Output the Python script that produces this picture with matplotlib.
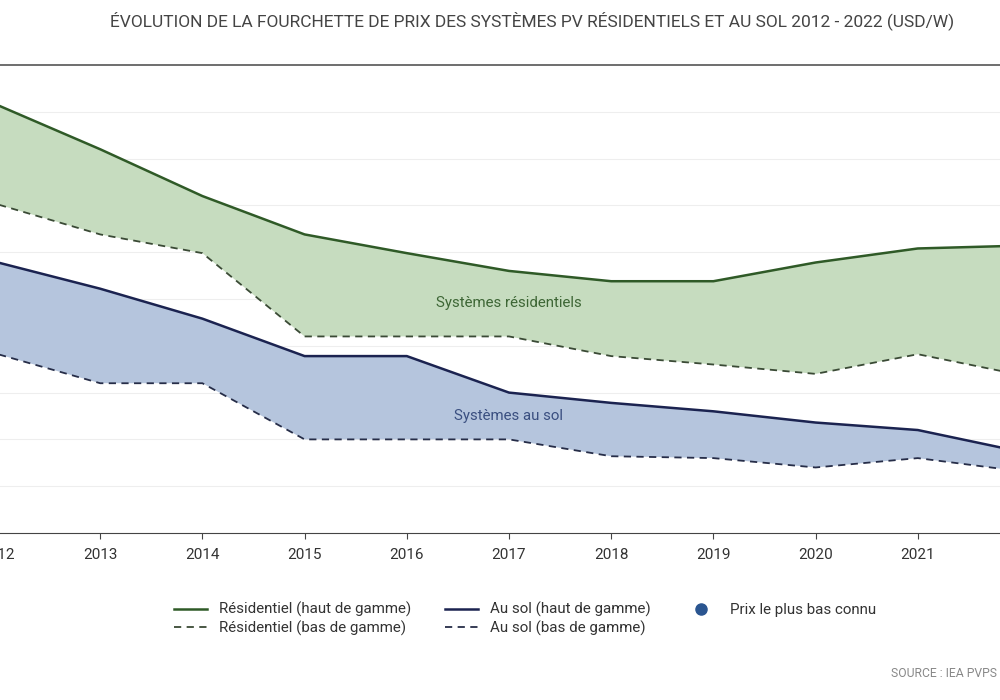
import matplotlib.pyplot as plt
from matplotlib.lines import Line2D

plt.rcParams['font.family'] = ['Roboto', 'DejaVu Sans']

# Price range of PV systems, USD/W
years = [2012, 2013, 2014, 2015, 2016, 2017, 2018, 2019, 2020, 2021, 2022]
res_high = [4.57, 4.10, 3.60, 3.19, 2.99, 2.80, 2.69, 2.69, 2.89, 3.04, 3.07]
res_low = [3.51, 3.19, 2.99, 2.10, 2.10, 2.10, 1.89, 1.80, 1.70, 1.91, 1.69]
sol_high = [2.89, 2.61, 2.29, 1.89, 1.89, 1.50, 1.39, 1.30, 1.18, 1.10, 0.87]
sol_low = [1.91, 1.60, 1.60, 1.00, 1.00, 1.00, 0.82, 0.80, 0.70, 0.80, 0.66]

green_line = '#2f5a27'
green_fill = '#c6dcbf'
navy_line = '#1b2350'
blue_fill = '#b5c5dd'

fig = plt.figure(figsize=(10, 7), dpi=100)
# the chart is cropped: axes run a little past both figure edges
ax = fig.add_axes([-0.002, 0.2386, 1.022, 0.6685])

ax.fill_between(years, res_low, res_high, color=green_fill, lw=0)
ax.fill_between(years, sol_low, sol_high, color=blue_fill, lw=0)
ax.plot(years, res_high, color=green_line, lw=1.8)
ax.plot(years, res_low, color='#3a4a35', lw=1.3, ls=(0, (4, 3)))
ax.plot(years, sol_high, color=navy_line, lw=1.8)
ax.plot(years, sol_low, color='#262d48', lw=1.3, ls=(0, (4, 3)))

ax.text(2017.0, 2.46, 'Systèmes résidentiels', color='#3d6635', fontsize=10.8,
        ha='center', va='center')
ax.text(2017.0, 1.25, 'Systèmes au sol', color='#3a4f80', fontsize=10.8,
        ha='center', va='center')

ax.set_xticks(years)
ax.set_xticklabels([str(y) for y in years], fontsize=11, color='#333333')
ax.set_yticks([i * 0.5 for i in range(1, 10)])
ax.set_xlim(2012, 2022)
ax.set_ylim(0, 5)
ax.tick_params(axis='y', left=False, labelleft=False)
ax.tick_params(axis='x', length=4, color='#444444', pad=7)
ax.grid(axis='y', color='#eeeeee', lw=0.8)
ax.set_axisbelow(True)
for s in ['left', 'right']:
    ax.spines[s].set_visible(False)
ax.spines['bottom'].set_color('#444444')
ax.spines['top'].set_color('#555555')
ax.spines['top'].set_linewidth(1.2)

fig.text(0.532, 0.97, 'ÉVOLUTION DE LA FOURCHETTE DE PRIX DES SYSTÈMES PV RÉSIDENTIELS ET AU SOL 2012 - 2022 (USD/W)',
         ha='center', va='center', fontsize=12.5, color='#444444')

handles = [
    Line2D([], [], color=green_line, lw=1.8),
    Line2D([], [], color='#3a4a35', lw=1.3, ls=(0, (4, 3))),
    Line2D([], [], color=navy_line, lw=1.8),
    Line2D([], [], color='#262d48', lw=1.3, ls=(0, (4, 3))),
    Line2D([], [], color='#2a5590', marker='o', ls='none', markersize=8),
]
labels = ['Résidentiel (haut de gamme)', 'Résidentiel (bas de gamme)',
          'Au sol (haut de gamme)', 'Au sol (bas de gamme)',
          'Prix le plus bas connu']
fig.legend(handles, labels, ncol=3, loc='center', bbox_to_anchor=(0.525, 0.116),
           frameon=False, fontsize=10.9, handlelength=2.2, columnspacing=2.2,
           labelspacing=0.2, labelcolor='#333333')

fig.text(0.997, 0.038, 'SOURCE : IEA PVPS', ha='right', va='center',
         fontsize=8.7, color='#888888')

fig.savefig('out.png', dpi=100)
